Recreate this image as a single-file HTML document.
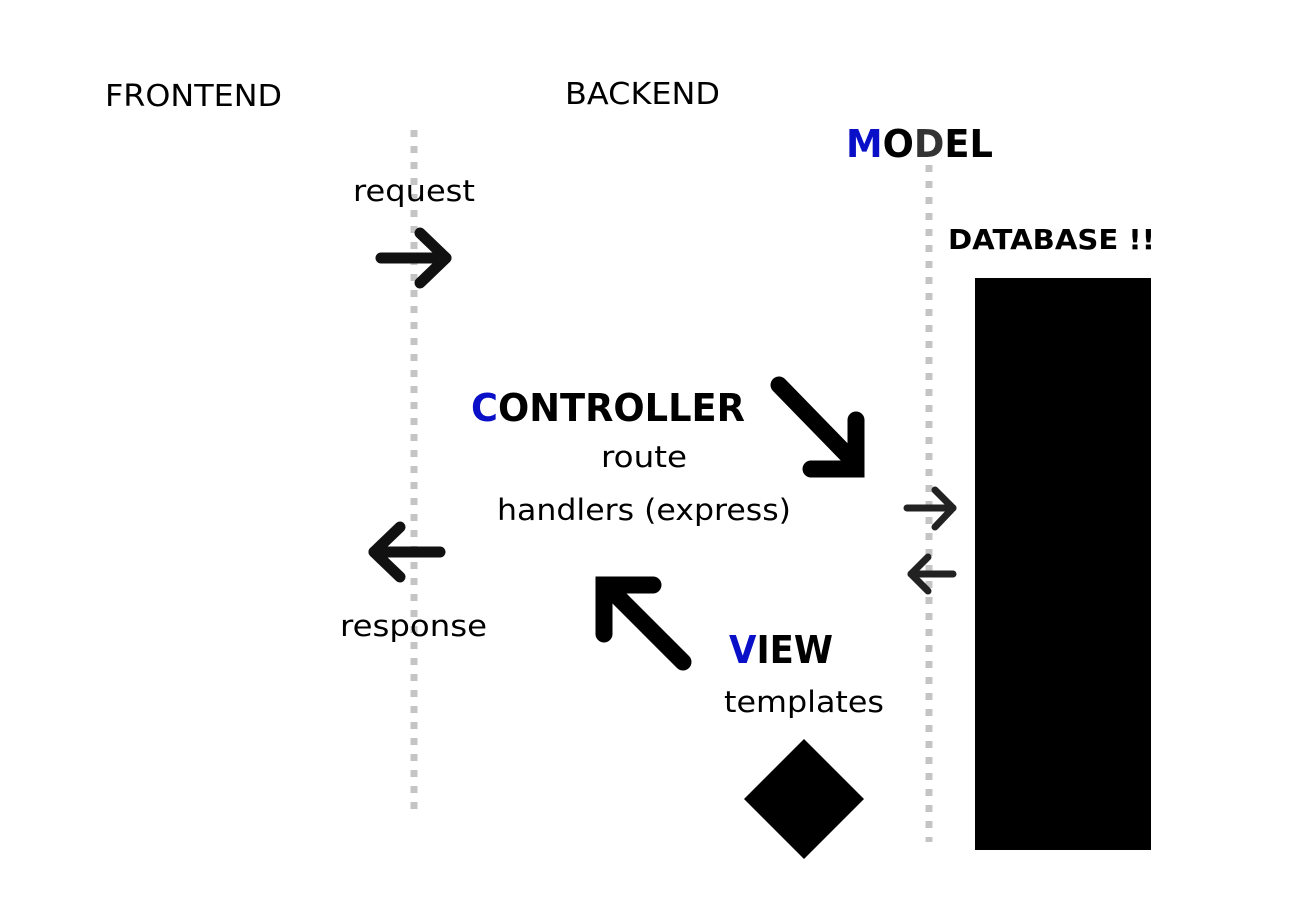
<!DOCTYPE html>
<html><head><meta charset="utf-8"><style>
html,body{margin:0;padding:0;background:#fff;}
svg{display:block;}
text{font-family:"DejaVu Sans","Liberation Sans",sans-serif;}
</style></head><body>
<svg width="1301" height="900" viewBox="0 0 1301 900" xmlns="http://www.w3.org/2000/svg">
<rect width="1301" height="900" fill="#fff"/>
<line x1="414" y1="130" x2="414" y2="815" stroke="#c4c4c4" stroke-width="7" stroke-dasharray="7 9"/>
<line x1="929" y1="165" x2="929" y2="842" stroke="#c4c4c4" stroke-width="7" stroke-dasharray="7 9"/>
<text x="105" y="106" font-size="30" textLength="177" lengthAdjust="spacingAndGlyphs">FRONTEND</text>
<text x="565" y="104" font-size="30" textLength="155" lengthAdjust="spacingAndGlyphs">BACKEND</text>
<text x="846" y="157" font-size="38" font-weight="bold" textLength="147" lengthAdjust="spacingAndGlyphs"><tspan fill="#0a10c8">M</tspan>O<tspan fill="#333">D</tspan>EL</text>
<text x="948" y="249" font-size="28" font-weight="bold" textLength="207" lengthAdjust="spacingAndGlyphs">DATABASE !!</text>
<text x="353" y="201" font-size="29" textLength="122" lengthAdjust="spacingAndGlyphs">request</text>
<text x="471" y="421" font-size="38" font-weight="bold" textLength="274" lengthAdjust="spacingAndGlyphs"><tspan fill="#0a10c8">C</tspan>ONTROLLER</text>
<text x="601" y="467" font-size="29" textLength="86" lengthAdjust="spacingAndGlyphs">route</text>
<text x="497" y="520" font-size="29" textLength="294" lengthAdjust="spacingAndGlyphs">handlers (express)</text>
<text x="340" y="636" font-size="29" textLength="147" lengthAdjust="spacingAndGlyphs">response</text>
<text x="729" y="663" font-size="38" font-weight="bold" textLength="104" lengthAdjust="spacingAndGlyphs"><tspan fill="#0a10c8">V</tspan>IEW</text>
<text x="724" y="712" font-size="29" textLength="160" lengthAdjust="spacingAndGlyphs">templates</text>
<rect x="975" y="278" width="176" height="572" fill="#000"/>
<polygon points="804,739 864,799 804,859 744,799" fill="#000"/>
<g fill="none" stroke="#111" stroke-width="11" stroke-linecap="round" stroke-linejoin="round">
<line x1="381" y1="258" x2="446" y2="258"/>
<polyline points="420,233 446,258 420,283"/>
<line x1="440" y1="552" x2="374" y2="552"/>
<polyline points="400,527 374,552 400,577"/>
</g>
<g fill="none" stroke="#000" stroke-width="17" stroke-linecap="round">
<line x1="779" y1="385" x2="855" y2="463"/>
<polyline points="856,420 856,469 811,469" stroke-linejoin="miter"/>
<line x1="683" y1="662" x2="609" y2="588"/>
<polyline points="604,634 604,585 653,585" stroke-linejoin="miter"/>
</g>
<g fill="none" stroke="#222" stroke-width="7" stroke-linecap="round" stroke-linejoin="round">
<line x1="907" y1="508" x2="953" y2="508"/>
<polyline points="935,490 953,508 935,527"/>
<line x1="953" y1="574" x2="911" y2="574"/>
<polyline points="928,557 911,574 928,591"/>
</g>
</svg>
</body></html>
